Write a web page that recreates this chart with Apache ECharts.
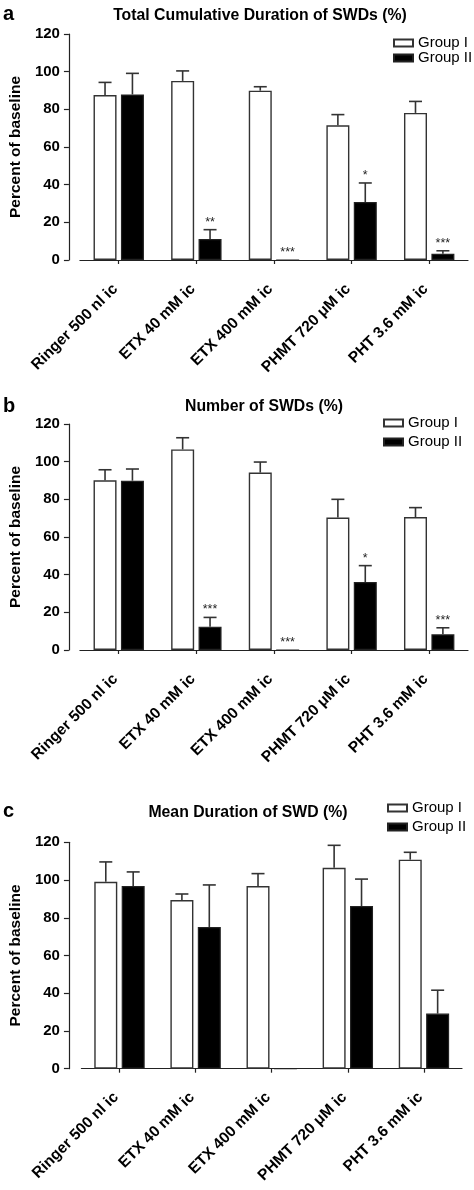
<!DOCTYPE html>
<html><head><meta charset="utf-8">
<script src="https://cdn.jsdelivr.net/npm/echarts@6/dist/echarts.min.js"></script>
<style>html,body{margin:0;padding:0;background:#fff}#c{width:474px;height:1190px}</style>
</head><body><div id="c"></div>
<script>
// ---------- data ----------
const categories = ['Ringer 500 nl ic', 'ETX 40 mM ic', 'ETX 400 mM ic', 'PHMT 720 \u03bcM ic', 'PHT 3.6 mM ic'];
const seriesNames = ['Group I', 'Group II'];
const panelLetters = ['a', 'b', 'c'];
const panelTitles = ['Total Cumulative Duration of SWDs (%)', 'Number of SWDs (%)', 'Mean Duration of SWD (%)'];
const yAxisName = 'Percent of baseline';
const yMin = 0, yMax = 120, yStep = 20;

// panel a: total cumulative duration
const aGroupI = [87.6, 95.1, 89.9, 71.5, 78.1];
const aGroupIErr = [6.7, 5.3, 2.1, 5.7, 6.1];
const aGroupII = [87.9, 11.1, 0, 30.8, 3.3];
const aGroupIIErr = [11.2, 5.0, 0, 10.1, 1.6];
const aStars = ['', '**', '***', '*', '***'];

// panel b: number of SWDs
const bGroupI = [90.1, 106.5, 94.2, 70.3, 70.6];
const bGroupIErr = [5.6, 6.2, 5.6, 9.7, 5.0];
const bGroupII = [89.9, 12.4, 0, 36.1, 8.3];
const bGroupIIErr = [6.2, 4.9, 0, 8.7, 3.5];
const bStars = ['', '***', '***', '*', '***'];

// panel c: mean duration
const cGroupI = [99.1, 89.4, 96.8, 106.5, 110.8];
const cGroupIErr = [10.5, 3.2, 6.6, 11.9, 3.9];
const cGroupII = [96.8, 75.1, 0, 86.2, 29.2];
const cGroupIIErr = [7.5, 22.3, 0, 14.3, 12.4];
const cStars = ['', '', '', '', ''];

// ---------- layout / style ----------
const FONT = '"Liberation Sans", Arial, Helvetica, sans-serif';
const BAR_W = 23, BAR_GAP_PX = 4.4;
const BAR_OFF = (BAR_W + BAR_GAP_PX) / 2;
const panels = [
  {g1: aGroupI, e1: aGroupIErr, g2: aGroupII, e2: aGroupIIErr, stars: aStars,
   grid: {left: 79, top: 34, width: 389, height: 226}, yOff: 11, xOff: 13,
   titleX: 260, titleY: 16, letterY: 14, legend: {left: 393, top: 35.5, gap: 0}},
  {g1: bGroupI, e1: bGroupIErr, g2: bGroupII, e2: bGroupIIErr, stars: bStars,
   grid: {left: 79, top: 424, width: 389, height: 226}, yOff: 11, xOff: 13,
   titleX: 264, titleY: 407, letterY: 406, legend: {left: 383, top: 415.5, gap: 4}},
  {g1: cGroupI, e1: cGroupIErr, g2: cGroupII, e2: cGroupIIErr, stars: cStars,
   grid: {left: 73, top: 842.3, width: 389, height: 226.4}, yOff: 12.5, xOff: 12.6,
   titleX: 248, titleY: 813, letterY: 811, legend: {left: 387, top: 800.5, gap: 4}}
];

function errRender(vals, errs, stars, side) {
  return function (params, api) {
    const k = params.dataIndex;
    const v = vals[k], e = errs[k];
    const base = api.coord([k, v]);
    const top = api.coord([k, v + e]);
    const x = base[0] + side * BAR_OFF;
    const ch = [];
    const ls = {stroke: '#333', lineWidth: 1.6};
    if (e > 0) {
      ch.push({type: 'line', shape: {x1: x, y1: base[1], x2: x, y2: top[1]}, style: ls});
      ch.push({type: 'line', shape: {x1: x - 6.5, y1: top[1], x2: x + 6.5, y2: top[1]}, style: ls});
    }
    const s = stars ? stars[k] : '';
    if (s) {
      ch.push({type: 'text', style: {text: s, x: x, y: top[1] - 1, textAlign: 'center',
        textVerticalAlign: 'bottom', font: '12.5px ' + FONT, fill: '#222'}});
    }
    return {type: 'group', children: ch};
  };
}

const grid = [], xAxis = [], yAxis = [], series = [], legend = [];
panels.forEach((p, i) => {
  grid.push(Object.assign({containLabel: false}, p.grid));
  xAxis.push({
    gridIndex: i, type: 'category', data: categories, offset: p.xOff,
    axisLine: {show: true, lineStyle: {color: '#222', width: 1.2}},
    axisTick: {show: true, alignWithLabel: true, length: 4, lineStyle: {color: '#222', width: 1.2}},
    axisLabel: {rotate: 45, interval: 0, fontSize: 15.5, fontWeight: 'bold', color: '#000', fontFamily: FONT,
      margin: 10, padding: [0, 5, 0, 0]},
    splitLine: {show: false}
  });
  yAxis.push({
    gridIndex: i, type: 'value', min: yMin, max: yMax, interval: yStep, offset: p.yOff,
    axisLine: {show: true, lineStyle: {color: '#222', width: 1.2}},
    axisTick: {show: true, length: 5, lineStyle: {color: '#222', width: 1.2}},
    axisLabel: {fontSize: 15, fontWeight: 'bold', color: '#000', fontFamily: FONT, margin: 9},
    splitLine: {show: false},
    name: yAxisName, nameLocation: 'middle', nameGap: 38,
    nameTextStyle: {fontSize: 15.5, fontWeight: 'bold', color: '#000', fontFamily: FONT}
  });
  series.push({
    name: seriesNames[0], type: 'bar', xAxisIndex: i, yAxisIndex: i, data: p.g1,
    barWidth: BAR_W, barGap: (BAR_GAP_PX / BAR_W * 100) + '%',
    itemStyle: {color: '#fff', borderColor: '#333', borderWidth: 1.4}
  });
  series.push({
    name: seriesNames[1], type: 'bar', xAxisIndex: i, yAxisIndex: i, data: p.g2,
    barWidth: BAR_W, barGap: (BAR_GAP_PX / BAR_W * 100) + '%',
    itemStyle: {color: '#000', borderColor: '#222', borderWidth: 1.2}
  });
  series.push({
    type: 'custom', xAxisIndex: i, yAxisIndex: i, data: p.g1.map((v, k) => [k, v]),
    renderItem: errRender(p.g1, p.e1, null, -1), z: 5, silent: true
  });
  series.push({
    type: 'custom', xAxisIndex: i, yAxisIndex: i, data: p.g2.map((v, k) => [k, v]),
    renderItem: errRender(p.g2, p.e2, p.stars, 1), z: 5, silent: true
  });
  legend.push({
    data: seriesNames, orient: 'vertical', left: p.legend.left, top: p.legend.top, padding: 0,
    itemWidth: 19, itemHeight: 7, itemGap: p.legend.gap, icon: 'rect', selectedMode: false,
    textStyle: {fontSize: 15, color: '#000', fontFamily: FONT, lineHeight: 15}
  });
});

const graphic = [];
panels.forEach((p, i) => {
  graphic.push({type: 'text', style: {text: panelTitles[i], x: p.titleX, y: p.titleY,
    textAlign: 'center', textVerticalAlign: 'middle', font: 'bold 15.8px ' + FONT, fill: '#000'}});
  graphic.push({type: 'text', style: {text: panelLetters[i], x: 3, y: p.letterY,
    textAlign: 'left', textVerticalAlign: 'middle', font: 'bold 20px ' + FONT, fill: '#000'}});
});

const chart = echarts.init(document.getElementById('c'), null, {renderer: 'canvas'});
chart.setOption({
  animation: false, backgroundColor: '#fff',
  grid, xAxis, yAxis, series, legend, graphic
});
</script></body></html>
